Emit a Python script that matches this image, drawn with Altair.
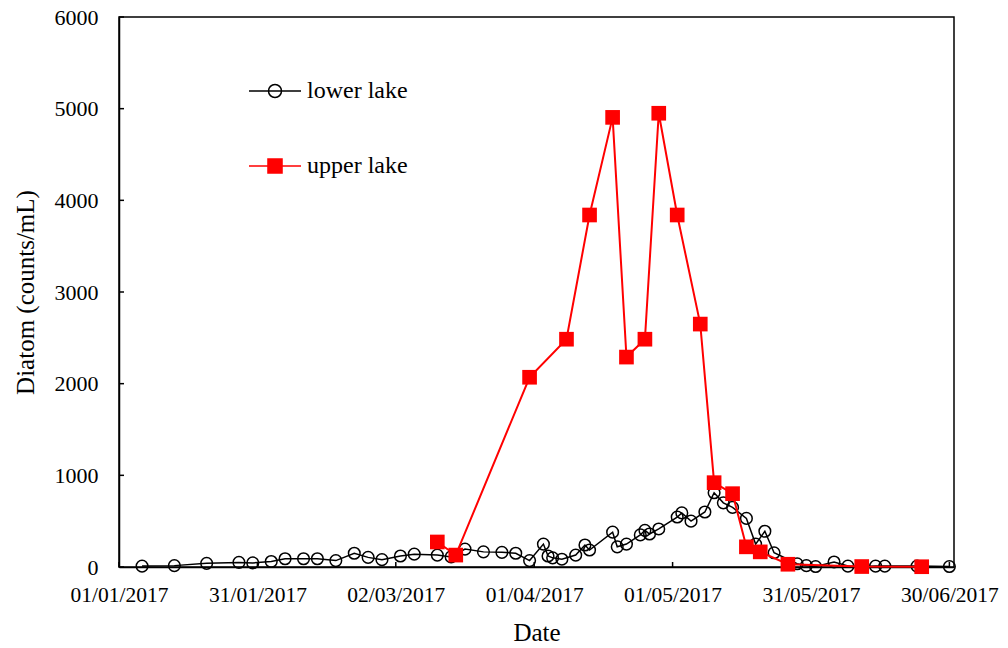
import altair as alt
import pandas as pd

# ---------------- data ----------------
lower_dates = [
    "2017-01-06", "2017-01-13", "2017-01-20", "2017-01-27", "2017-01-30",
    "2017-02-03", "2017-02-06", "2017-02-10", "2017-02-13", "2017-02-17",
    "2017-02-21", "2017-02-24", "2017-02-27", "2017-03-03", "2017-03-06",
    "2017-03-11", "2017-03-14", "2017-03-17", "2017-03-21", "2017-03-25",
    "2017-03-28", "2017-03-31", "2017-04-03", "2017-04-04", "2017-04-05",
    "2017-04-07", "2017-04-10", "2017-04-12", "2017-04-13", "2017-04-18",
    "2017-04-19", "2017-04-21", "2017-04-24", "2017-04-25", "2017-04-26",
    "2017-04-28", "2017-05-02", "2017-05-03", "2017-05-05", "2017-05-08",
    "2017-05-10", "2017-05-12", "2017-05-14", "2017-05-17", "2017-05-19",
    "2017-05-21", "2017-05-23", "2017-05-28", "2017-05-30", "2017-06-01",
    "2017-06-05", "2017-06-08", "2017-06-11", "2017-06-14", "2017-06-16",
    "2017-06-23", "2017-06-30",
]
lower_values = [
    10, 15, 40, 50, 45,
    60, 90, 90, 90, 70,
    150, 105, 80, 120, 140,
    130, 110, 195, 165, 160,
    150, 70, 250, 120, 100,
    85, 130, 240, 185, 380,
    220, 250, 350, 400, 360,
    415, 545, 590, 500, 600,
    810, 700, 650, 530, 250,
    390, 155, 35, 15, 5,
    55, 10, 5, 10, 10,
    10, 5,
]

upper_dates = [
    "2017-03-11", "2017-03-15", "2017-03-31", "2017-04-08", "2017-04-13",
    "2017-04-18", "2017-04-21", "2017-04-25", "2017-04-28", "2017-05-02",
    "2017-05-07", "2017-05-10", "2017-05-14", "2017-05-17", "2017-05-20",
    "2017-05-26", "2017-06-11", "2017-06-24",
]
upper_values = [
    273, 130, 2070, 2485, 3840,
    4905, 2290, 2485, 4950, 3840,
    2650, 920, 800, 220, 165,
    30, 5, 3,
]

series_names = ["lower lake", "upper lake"]
y_tick_values = [0, 1000, 2000, 3000, 4000, 5000, 6000]
x_tick_dates = ["2017-01-01", "2017-01-31", "2017-03-02", "2017-04-01",
                "2017-05-01", "2017-05-31", "2017-06-30"]

# ---------------- tables ----------------
lower = pd.DataFrame({"date": lower_dates, "value": lower_values})
upper = pd.DataFrame({"date": upper_dates, "value": upper_values})
ytick_df = pd.DataFrame({"value": y_tick_values})
xtick_df = pd.DataFrame({"date": x_tick_dates})
legend_df = pd.DataFrame({"series": series_names})

FONT = "'Liberation Serif', 'Times New Roman', serif"
RED = "#FF0000"


def dt(s):
    y, m, d = (int(p) for p in s.split("-"))
    return alt.DateTime(year=y, month=m, date=d, utc=True)


x_enc = alt.X(
    "date:T",
    scale=alt.Scale(type="utc", domain=[dt("2017-01-01"), dt("2017-07-01")]),
    axis=alt.Axis(values=[dt(s) for s in x_tick_dates], format="%d/%m/%Y",
                  labelOverlap=False, labelFlush=False),
    title="Date",
)
y_enc = alt.Y(
    "value:Q",
    scale=alt.Scale(domain=[0, 6000], nice=False),
    axis=alt.Axis(values=y_tick_values, format="d"),
    title="Diatom (counts/mL)",
)

lower_line = alt.Chart(lower).mark_line(color="black", strokeWidth=1.5).encode(x=x_enc, y=y_enc)
lower_pts = alt.Chart(lower).mark_point(
    shape="circle", filled=False, color="black", size=135, strokeWidth=1.5, opacity=1
).encode(x=x_enc, y=y_enc)
upper_line = alt.Chart(upper).mark_line(color=RED, strokeWidth=2).encode(x=x_enc, y=y_enc)
upper_pts = alt.Chart(upper).mark_point(
    shape="square", filled=True, color=RED, size=215, opacity=1
).encode(x=x_enc, y=y_enc)

# inward tick marks
ytick = alt.Chart(ytick_df).mark_rule(color="black", strokeWidth=1.5).encode(
    y=y_enc, x=alt.value(0), x2=alt.value(5)
)
xtick = alt.Chart(xtick_df).mark_rule(color="black", strokeWidth=1.5).encode(
    x=x_enc, y=alt.value(550), y2=alt.value(545)
)

# legend (symbols: line with marker)
lower_sym = "M-1,0L1,0M0.25,0A0.25,0.25 0 1,1 -0.25,0A0.25,0.25 0 1,1 0.25,0"
upper_sym = "M-1,0L1,0M-0.27,-0.27L0.27,-0.27L0.27,0.27L-0.27,0.27Z"
leg = alt.Legend(title=None, orient="none", legendX=129, legendY=47)
legend_layer = alt.Chart(legend_df).mark_point(strokeWidth=1.5, opacity=1).encode(
    shape=alt.Shape("series:N", scale=alt.Scale(domain=series_names, range=[lower_sym, upper_sym]), legend=leg),
    stroke=alt.Stroke("series:N", scale=alt.Scale(domain=series_names, range=["black", RED]), legend=leg),
    fill=alt.Fill("series:N", scale=alt.Scale(domain=series_names, range=["transparent", RED]), legend=leg),
).transform_filter("false")

chart = alt.layer(
    ytick, xtick, lower_line, lower_pts, upper_line, upper_pts, legend_layer
).properties(
    width=835,
    height=550,
    autosize=alt.AutoSizeParams(type="none"),
    padding={"left": 111, "top": 9, "right": 46, "bottom": 90},
).configure(
    font=FONT,
).configure_view(
    stroke="black", strokeWidth=1.5
).configure_axis(
    labelFont=FONT, labelColor="black",
    titleFont=FONT, titleFontSize=25, titleFontWeight="normal", titleColor="black",
    domainColor="black", domainWidth=1.5, ticks=False, tickSize=0, grid=False,
).configure_axisX(
    labelFontSize=21.5, labelPadding=17, titlePadding=15,
).configure_axisY(
    labelFontSize=22, labelPadding=21, titlePadding=16,
).configure_legend(
    symbolSize=2704, symbolStrokeWidth=1.5, labelFont=FONT, labelFontSize=24,
    labelColor="black", labelOffset=5, rowPadding=36, padding=0,
)

chart.save("out.html", embed_options={"renderer": "svg", "actions": False})
